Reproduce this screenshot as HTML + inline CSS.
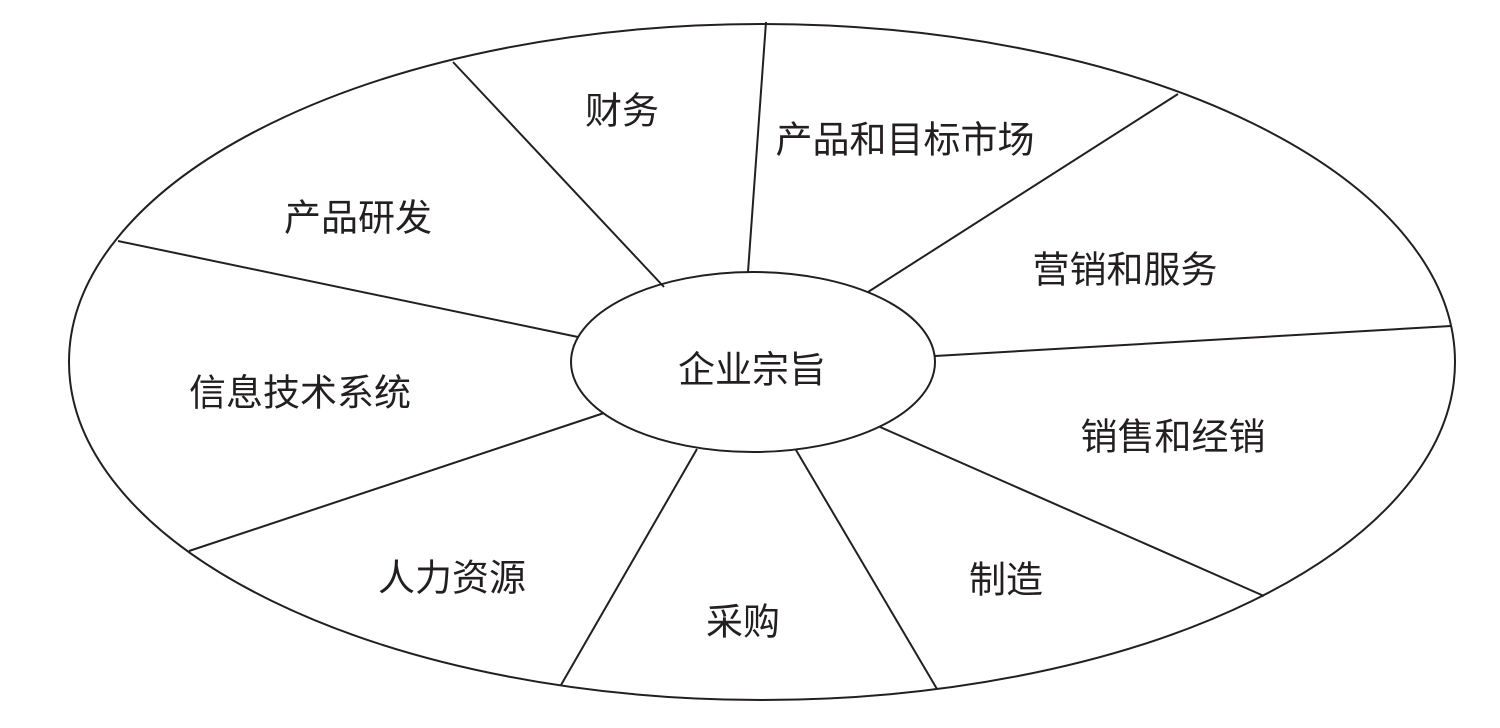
<!DOCTYPE html>
<html><head><meta charset="utf-8"><style>
html,body{margin:0;padding:0;background:#fff;}
svg{display:block;}
text{font-family:"Liberation Sans","Noto Sans CJK SC",sans-serif;font-size:37px;fill:#231f20;text-anchor:middle;dominant-baseline:central;}
</style></head><body>
<svg width="1500" height="728" viewBox="0 0 1500 728">
<g stroke="#231f20" stroke-width="2" fill="none">
<ellipse cx="762" cy="362" rx="693" ry="338"/>
<ellipse cx="753" cy="362" rx="182" ry="90" fill="#fff"/>
<line x1="453" y1="62" x2="664" y2="287"/>
<line x1="766" y1="22" x2="748" y2="272"/>
<line x1="1178" y1="94" x2="868" y2="292"/>
<line x1="1451" y1="326" x2="935" y2="356"/>
<line x1="880" y1="427" x2="1264" y2="596"/>
<line x1="796" y1="450" x2="937" y2="689"/>
<line x1="697" y1="449" x2="561" y2="685"/>
<line x1="604" y1="413" x2="189" y2="551"/>
<line x1="578" y1="337" x2="118" y2="241"/>
</g>
<text x="622" y="111">财务</text>
<text x="905" y="140">产品和目标市场</text>
<text x="358" y="218">产品研发</text>
<text x="1125" y="270">营销和服务</text>
<text x="752" y="370">企业宗旨</text>
<text x="300" y="393">信息技术系统</text>
<text x="1173" y="437">销售和经销</text>
<text x="452" y="578">人力资源</text>
<text x="1006" y="580">制造</text>
<text x="743" y="622">采购</text>
</svg>
</body></html>
